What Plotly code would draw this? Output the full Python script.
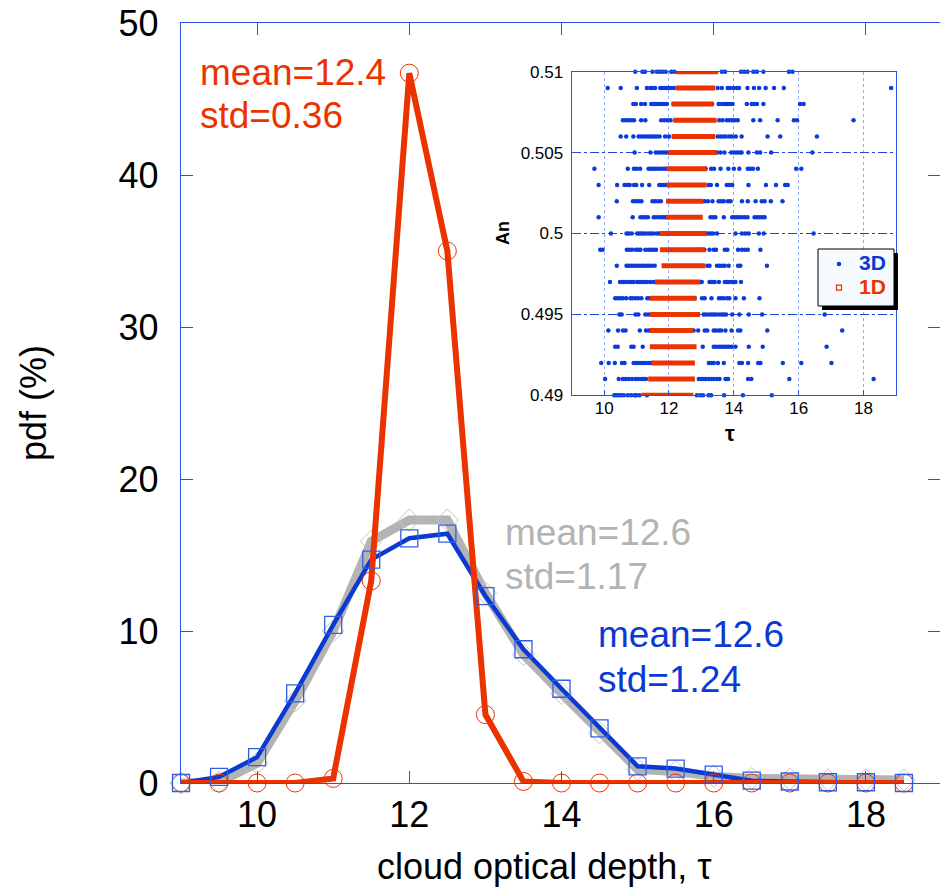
import plotly.graph_objects as go

# ---------------- main panel data ----------------
tau = [9, 9.5, 10, 10.5, 11, 11.5, 12, 12.5, 13, 13.5, 14, 14.5, 15, 15.5, 16, 16.5, 17, 17.5, 18, 18.5]
pdf_3d = [0.0, 0.4, 1.7, 5.9, 10.4, 14.7, 16.1, 16.4, 12.3, 8.8, 6.2, 3.6, 1.1, 0.95, 0.55, 0.15, 0.1, 0.05, 0.05, 0.0]
pdf_grey = [0.0, 0.05, 1.3, 5.4, 10.0, 15.9, 17.3, 17.3, 12.5, 8.45, 5.9, 3.3, 0.9, 0.75, 0.45, 0.3, 0.25, 0.2, 0.2, 0.2]
pdf_1d = [0, 0, 0, 0, 0.3, 13.3, 46.7, 35.0, 4.5, 0.1, 0, 0, 0, 0, 0, 0, 0, 0, 0, 0]

x_ticks = [10, 12, 14, 16, 18]
y_ticks = [0, 10, 20, 30, 40, 50]

# ---------------- inset data ----------------
an_rows = [0.510, 0.509, 0.508, 0.507, 0.506, 0.505, 0.504, 0.503, 0.502, 0.501, 0.500,
           0.499, 0.498, 0.497, 0.496, 0.495, 0.494, 0.493, 0.492, 0.491, 0.490]

r510 = [10.96, 11.18, 11.26, 11.49, 11.62, 11.71, 11.80, 11.90, 12.07, 12.17, 13.63, 13.73, 14.22, 14.32, 14.42, 14.60, 14.71, 14.91, 15.70, 15.81]
r509 = [10.11, 10.51, 11.01, 11.32, 11.43, 11.50, 11.57, 11.73, 11.80, 11.88, 11.95, 12.05, 12.15, 13.50, 13.63, 13.81, 13.88, 13.99, 14.09, 14.16, 14.42, 14.62, 14.78, 14.98, 15.24, 15.54, 18.85]
r508 = [10.90, 10.98, 11.14, 11.26, 11.45, 11.52, 11.59, 11.68, 11.76, 11.84, 11.93, 12.14, 12.30, 13.25, 13.33, 13.53, 13.63, 13.71, 13.79, 13.87, 13.96, 14.40, 14.55, 14.64, 14.71, 14.91, 16.04, 16.15]
r507 = [10.58, 10.66, 10.75, 10.84, 10.92, 11.14, 11.27, 11.76, 11.86, 11.96, 12.05, 13.55, 13.65, 13.78, 13.86, 13.94, 14.02, 14.12, 14.60, 14.81, 15.35, 15.85, 15.95, 17.69]
r506 = [10.51, 10.68, 10.90, 11.06, 11.14, 11.22, 11.31, 11.39, 11.47, 11.55, 11.62, 11.71, 11.88, 12.00, 13.50, 13.59, 13.67, 13.75, 13.85, 13.94, 14.06, 14.24, 15.04, 15.43, 16.56]
r505 = [10.94, 11.43, 11.59, 11.68, 11.76, 11.84, 11.92, 12.00, 12.09, 13.13, 13.22, 13.30, 13.38, 13.48, 13.59, 13.71, 13.92, 14.01, 14.09, 14.17, 14.24, 14.45, 14.71, 14.81, 15.15, 16.42]
r504 = [9.70, 10.73, 10.92, 11.01, 11.11, 11.37, 11.45, 11.52, 11.60, 11.69, 11.77, 11.85, 11.92, 13.06, 13.13, 13.30, 13.39, 13.59, 13.83, 14.00, 14.17, 14.43, 14.51, 14.59, 14.74, 15.92, 16.08]
r503 = [9.83, 10.40, 10.63, 10.72, 10.79, 10.92, 10.99, 11.17, 11.39, 11.70, 11.77, 11.84, 11.90, 13.22, 13.29, 13.48, 13.78, 13.86, 13.95, 14.45, 14.99, 15.30, 15.58, 15.66]
r502 = [10.39, 10.89, 10.98, 11.06, 11.15, 11.49, 11.57, 11.66, 11.75, 13.10, 13.20, 13.34, 13.53, 13.61, 13.69, 13.82, 13.90, 14.25, 14.43, 14.67, 14.86, 14.95, 15.14, 15.50]
r501 = [9.83, 10.88, 11.12, 11.19, 11.27, 11.35, 11.53, 11.60, 11.69, 11.77, 11.84, 11.90, 13.28, 13.36, 13.43, 13.69, 13.95, 14.02, 14.10, 14.17, 14.25, 14.34, 14.42, 14.64, 14.72, 14.80, 14.88, 14.95]
r500 = [10.21, 10.69, 10.76, 10.85, 11.02, 11.09, 11.15, 11.22, 11.29, 11.38, 11.45, 11.53, 11.63, 11.71, 11.80, 11.88, 13.03, 13.11, 13.20, 13.28, 13.36, 13.48, 14.05, 14.25, 14.36, 14.46, 14.77, 14.92, 16.46]
r499 = [9.88, 9.95, 10.70, 10.78, 10.86, 10.98, 11.05, 11.12, 11.27, 11.36, 11.45, 11.53, 11.60, 12.84, 12.92, 13.00, 13.09, 13.25, 13.38, 13.45, 13.72, 13.80, 14.13, 14.25, 14.34, 14.43, 14.82]
r498 = [10.39, 10.69, 10.76, 10.84, 10.91, 10.99, 11.07, 11.15, 11.22, 11.31, 11.38, 11.46, 11.56, 13.18, 13.25, 13.48, 13.56, 13.64, 13.72, 13.84, 14.13, 14.20, 15.02]
r497 = [10.18, 10.49, 10.58, 10.66, 10.76, 10.84, 10.91, 11.02, 11.09, 11.17, 11.25, 11.33, 11.43, 11.53, 12.95, 13.01, 13.25, 13.33, 13.41, 13.54, 13.72, 13.79, 13.86, 13.95, 14.05, 14.22]
r496 = [10.34, 10.42, 10.50, 10.58, 10.68, 10.81, 10.88, 10.97, 11.05, 11.15, 11.33, 11.40, 12.68, 12.79, 13.02, 13.10, 13.31, 13.54, 13.61, 13.69, 13.79, 13.86, 14.05, 14.31, 14.79]
r495 = [10.47, 10.54, 10.97, 11.05, 11.27, 11.36, 13.07, 13.14, 13.23, 13.31, 13.38, 13.45, 13.54, 13.62, 13.69, 13.76, 13.95, 14.17, 14.46, 14.87, 16.80]
r494 = [10.13, 10.43, 10.58, 10.66, 11.10, 11.29, 11.38, 12.76, 12.90, 13.10, 13.18, 13.38, 13.45, 13.54, 13.61, 13.74, 13.93, 14.13, 14.20, 15.03, 17.34]
r493 = [10.34, 10.42, 10.84, 10.91, 11.19, 13.04, 13.38, 13.45, 13.54, 13.62, 13.69, 13.77, 13.84, 13.93, 14.05, 14.46, 14.89, 16.86]
r492 = [9.91, 10.14, 10.33, 10.55, 10.63, 10.91, 10.99, 11.07, 11.15, 11.22, 11.29, 11.38, 11.46, 13.23, 13.31, 13.38, 13.51, 13.69, 14.17, 14.25, 14.44, 14.75, 14.82, 15.51, 16.08, 17.01]
r491 = [10.03, 10.45, 10.58, 10.66, 10.76, 10.86, 10.97, 11.05, 11.15, 11.22, 11.29, 12.92, 13.00, 13.07, 13.14, 13.23, 13.31, 13.38, 13.48, 13.56, 13.74, 13.82, 14.44, 14.54, 15.71, 18.31]
r490 = [10.31, 10.38, 10.45, 10.53, 10.61, 10.73, 10.83, 10.94, 10.99, 11.09, 11.32, 12.86, 12.97, 13.05, 13.22, 13.30, 13.70, 14.28, 15.17]

blue_rows = [r510, r509, r508, r507, r506, r505, r504, r503, r502, r501, r500,
             r499, r498, r497, r496, r495, r494, r493, r492, r491, r490]

red_lo = [12.21, 12.21, 12.08, 12.13, 12.08, 11.98, 11.93, 11.93, 11.91, 11.91, 11.72,
          11.72, 11.77, 11.57, 11.41, 11.41, 11.41, 11.41, 11.46, 11.36, 11.15]
red_hi = [13.52, 13.42, 13.37, 13.47, 13.42, 13.47, 13.16, 13.16, 13.06, 13.04, 13.16,
          13.11, 13.11, 12.96, 12.85, 12.96, 12.75, 12.85, 12.80, 12.80, 12.75]

inset_x_ticks = [10, 12, 14, 16, 18]
inset_y_ticks = [0.49, 0.495, 0.5, 0.505, 0.51]
inset_y_text = ['0.49', '0.495', '0.5', '0.505', '0.51']

# ---------------- styling ----------------
RED = '#EB3300'
BLUE = '#0A3AD2'
BLUE_MK = '#2F5FE6'
GREY = '#B3B3B3'
AX = '#2A52DE'
FONT = 'Arial, Liberation Sans, sans-serif'

W, H = 940, 894
ML, MR, MT, MB = 181, 0, 23, 111
PW, PH = W - ML - MR, H - MT - MB


def px(xp):
    return (xp - ML) / PW


def py(yp):
    return (H - MB - yp) / PH


fig = go.Figure()

# main curves
fig.add_trace(go.Scatter(x=tau, y=pdf_grey, mode='lines+markers', showlegend=False,
                         line=dict(color=GREY, width=9),
                         marker=dict(symbol='diamond-open', size=17, color='#C4C4C4', line=dict(width=1)),
                         cliponaxis=False))
fig.add_trace(go.Scatter(x=tau, y=pdf_3d, mode='lines', showlegend=False,
                         line=dict(color=BLUE, width=4.5), cliponaxis=False))
fig.add_trace(go.Scatter(x=tau, y=pdf_1d, mode='lines+markers', showlegend=False,
                         line=dict(color=RED, width=6),
                         marker=dict(symbol='circle-open', size=18, color=RED, line=dict(width=1)),
                         cliponaxis=False))
fig.add_trace(go.Scatter(x=tau, y=pdf_3d, mode='markers', showlegend=False,
                         marker=dict(symbol='square-open', size=17, color=BLUE_MK, line=dict(width=1.3)),
                         cliponaxis=False))

# inset traces
bx, by = [], []
for a, row in zip(an_rows, blue_rows):
    bx.extend(row)
    by.extend([a] * len(row))
fig.add_trace(go.Scatter(x=bx, y=by, mode='markers',
                         name="<b><span style='color:#0A3AD2;font-size:21px'>3D</span></b>",
                         marker=dict(symbol='circle', size=4.5, color='#0B3CDB'),
                         xaxis='x2', yaxis='y2', cliponaxis=False))
rx, ry = [], []
for a, lo, hi in zip(an_rows, red_lo, red_hi):
    rx.extend([lo, hi, None])
    ry.extend([a, a, None])
fig.add_trace(go.Scatter(x=rx, y=ry, mode='lines', showlegend=False,
                         line=dict(color=RED, width=5), xaxis='x2', yaxis='y2'))
fig.add_trace(go.Scatter(x=[None], y=[None], mode='markers',
                         name="<b><span style='color:#EB3300;font-size:21px'>1D</span></b>",
                         marker=dict(symbol='square-open', size=5, color=RED, line=dict(width=1.2)),
                         xaxis='x2', yaxis='y2'))

axis_common = dict(showline=True, linecolor=AX, linewidth=1.3, ticks='inside',
                   tickcolor=AX, showgrid=False, zeroline=False,
                   tickfont=dict(family=FONT, size=36, color='black'))

ins_l, ins_r, ins_t, ins_b = 571.7, 896, 71.7, 395.3
fig.update_layout(
    width=W, height=H,
    margin=dict(l=ML, r=MR, t=MT, b=MB),
    paper_bgcolor='white', plot_bgcolor='white',
    font=dict(family=FONT),
    xaxis=dict(range=[9, 9 + PW / 76.1], tickvals=x_ticks, ticklen=12, mirror='ticks',
               ticklabelstandoff=0, **axis_common),
    yaxis=dict(range=[0, 50], tickvals=y_ticks, ticklen=12, mirror='ticks',
               ticklabelstandoff=14, **axis_common),
    xaxis2=dict(domain=[px(ins_l), px(ins_r)], anchor='y2', range=[9, 19], tickvals=inset_x_ticks,
                showline=True, linecolor=AX, linewidth=1.2, mirror=True, ticks='inside', ticklen=5,
                tickcolor=AX, showgrid=True, gridcolor='#95AAF2', griddash='dot', gridwidth=1,
                zeroline=False, tickfont=dict(family=FONT, size=17, color='black'), ticklabelstandoff=-3),
    yaxis2=dict(domain=[py(ins_b), py(ins_t)], anchor='x2', range=[0.49, 0.51], tickvals=inset_y_ticks,
                ticktext=inset_y_text, showline=True, linecolor=AX, linewidth=1.2, mirror=True,
                ticks='inside', ticklen=6, tickcolor=AX, showgrid=True, gridcolor='#1F47D6',
                griddash='dashdot', gridwidth=1, zeroline=False,
                tickfont=dict(family=FONT, size=17, color='black'), ticklabelstandoff=4),
    legend=dict(x=px(819), y=py(247), xanchor='left', yanchor='top', bgcolor='rgba(0,0,0,0)',
                borderwidth=0, font=dict(family=FONT, size=16), tracegroupgap=0,
                itemsizing='trace'),
    showlegend=True,
)

# legend box with shadow
fig.add_shape(type='rect', xref='paper', yref='paper', x0=px(822), x1=px(898), y0=py(310), y1=py(253),
              fillcolor='black', line=dict(width=0), layer='above')
fig.add_shape(type='rect', xref='paper', yref='paper', x0=px(818), x1=px(894), y0=py(306), y1=py(249),
              fillcolor='#F5FAFF', line=dict(color='black', width=1), layer='above')

ann = []


def txt(x, y, s, color, size=37, bold=False, angle=0, xanchor='left'):
    if bold:
        s = '<b>' + s + '</b>'
    ann.append(dict(x=x, y=y, xref='paper', yref='paper', text=s, showarrow=False,
                    xanchor=xanchor, yanchor='middle', textangle=angle,
                    font=dict(family=FONT, size=size, color=color)))


txt(px(198), py(72), 'mean=12.4', RED)
txt(px(198), py(115), 'std=0.36', RED)
txt(px(503), py(532), 'mean=12.6', GREY)
txt(px(503), py(576), 'std=1.17', GREY)
txt(px(596), py(634), 'mean=12.6', BLUE)
txt(px(596), py(679), 'std=1.24', BLUE)
txt(px(544), py(867), 'cloud optical depth, τ', 'black', size=36, xanchor='center')
txt(px(33), py(403), 'pdf (%)', 'black', size=36, angle=-90, xanchor='center')
txt(px(503), py(233), 'An', 'black', size=18, bold=True, angle=-90, xanchor='center')
txt(px(730), py(433), 'τ', 'black', size=22, bold=True, xanchor='center')
fig.update_layout(annotations=ann)

fig.write_html('out.html', config={'displayModeBar': False},
               post_script="document.body.style.margin='0px';")
